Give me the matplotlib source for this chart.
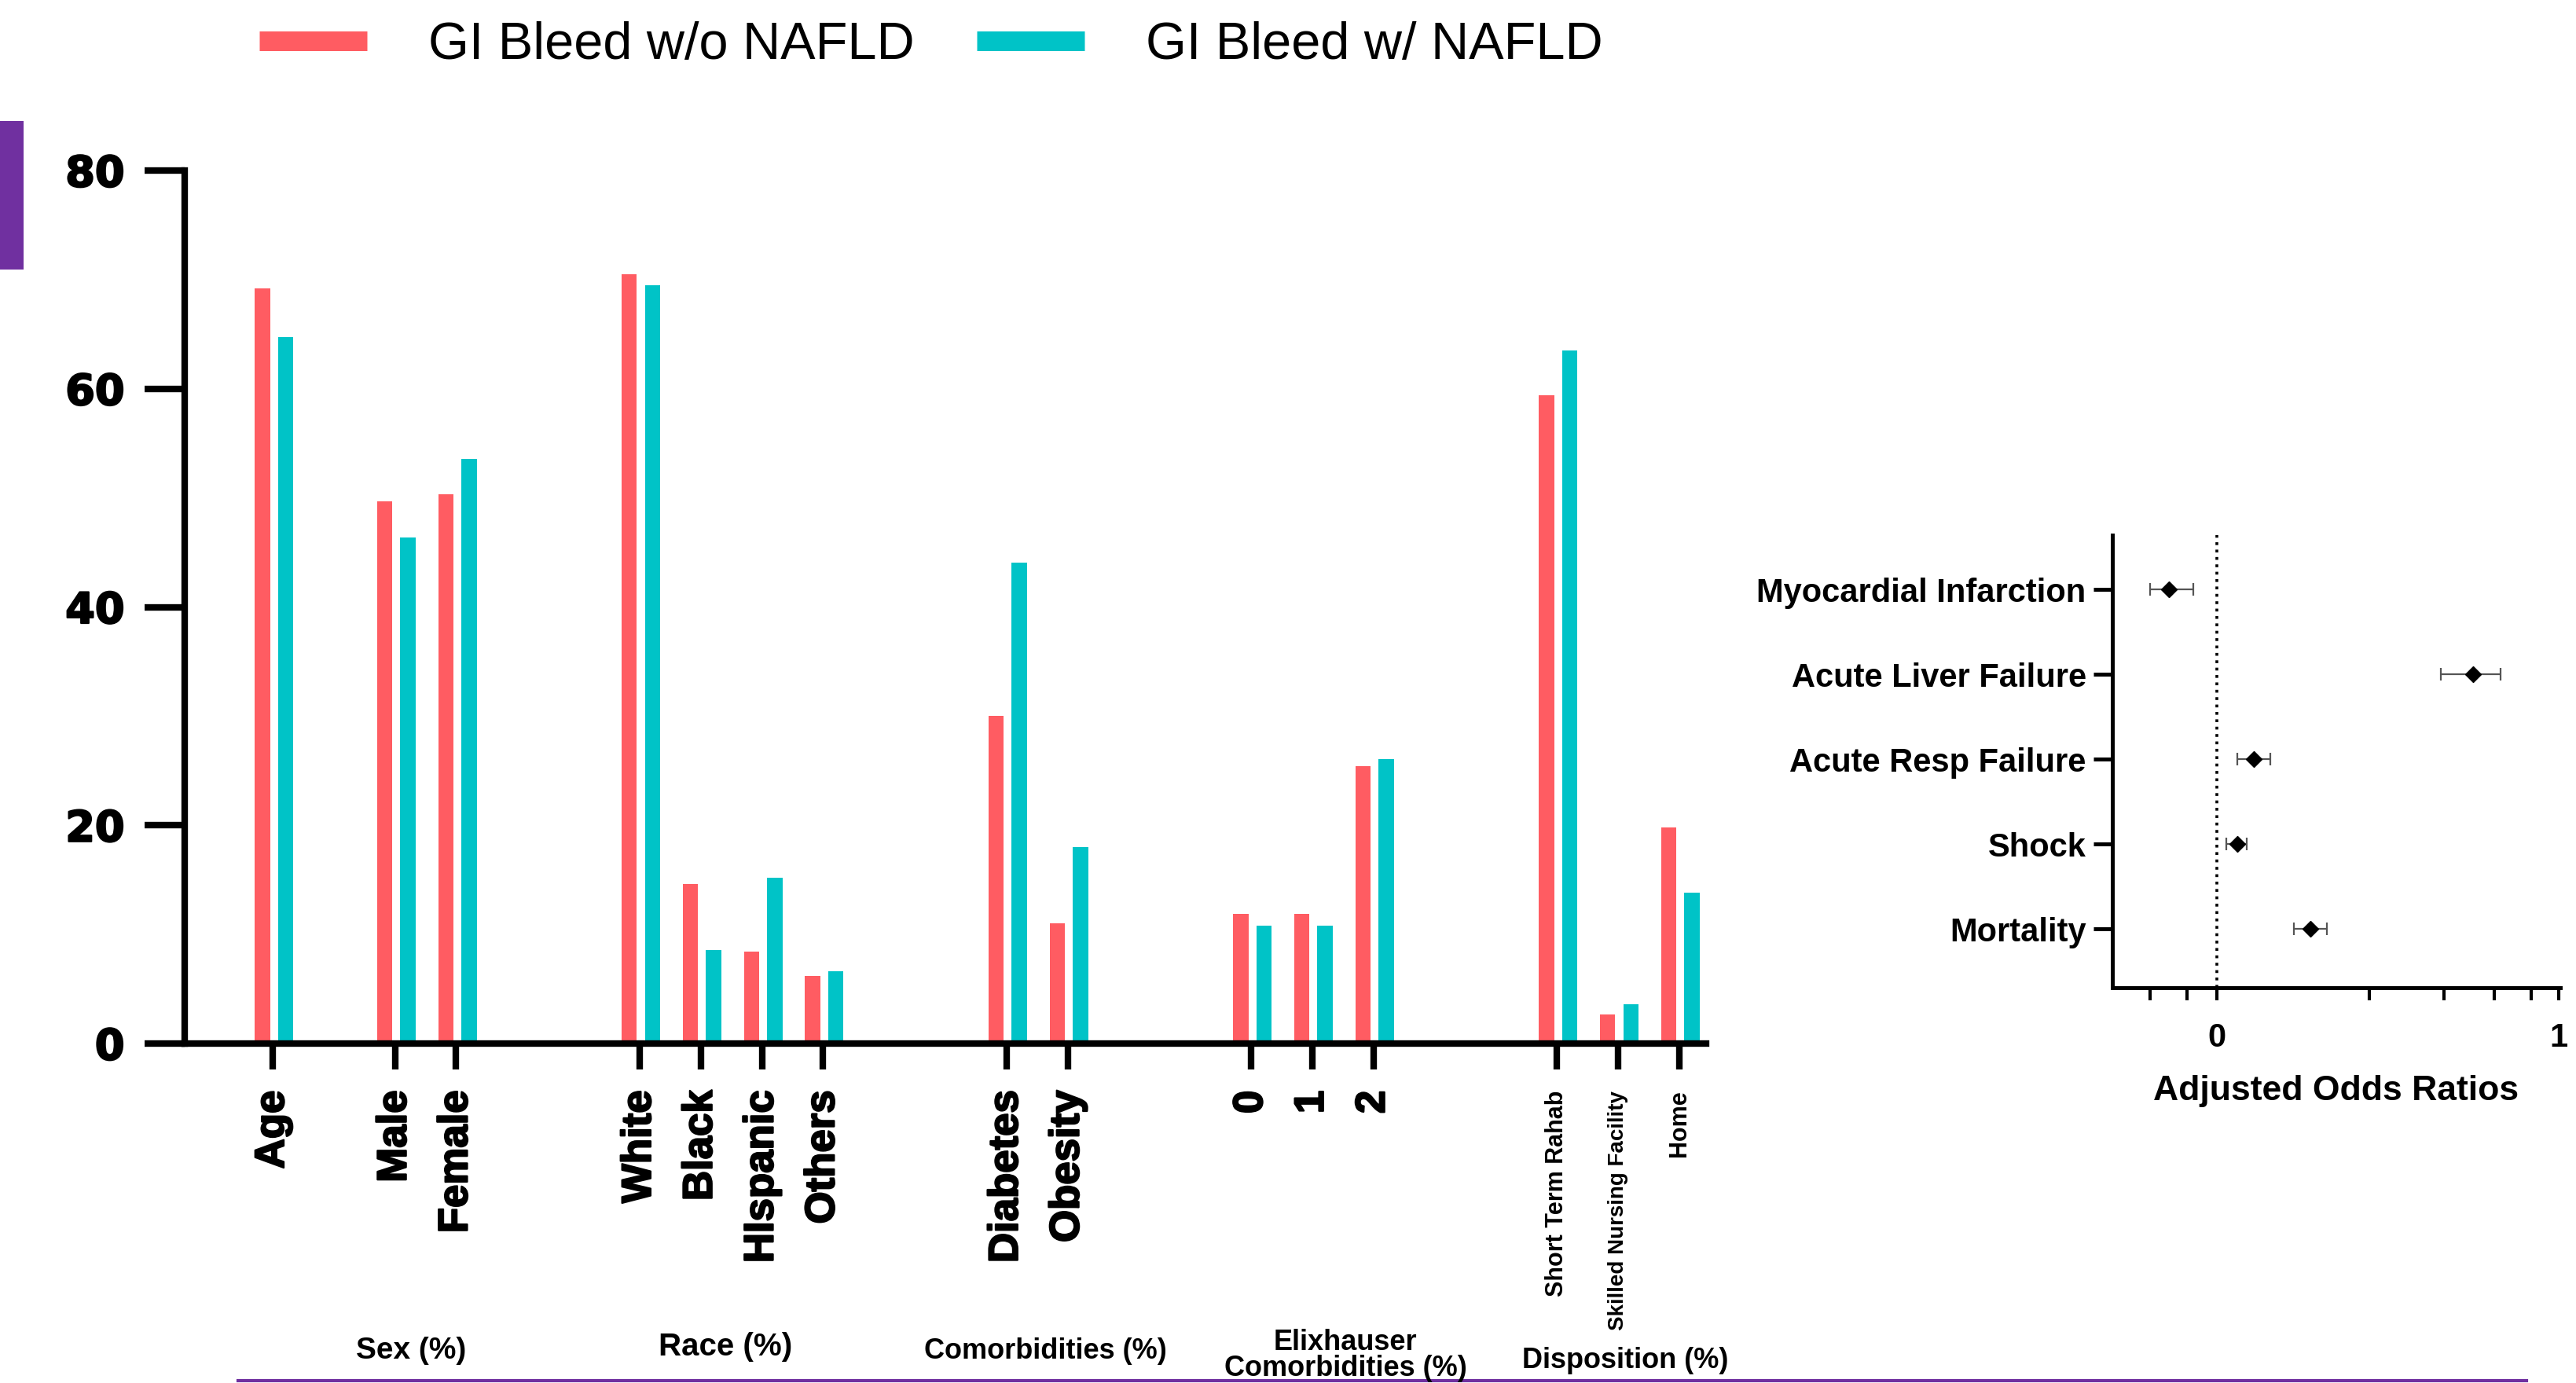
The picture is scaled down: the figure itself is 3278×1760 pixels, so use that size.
import matplotlib
matplotlib.use("Agg")
import matplotlib.pyplot as plt
import matplotlib.patheffects as pe
from matplotlib.lines import Line2D
from matplotlib.patches import Rectangle
import numpy as np

plt.rcParams['font.family'] = ['Liberation Sans', 'DejaVu Sans']

# ---------------- data ----------------
series_names = ['GI Bleed w/o NAFLD', 'GI Bleed w/ NAFLD']
categories = ['Age', 'Male', 'Female', 'White', 'Black', 'HIspanic', 'Others',
              'Diabetes', 'Obesity', '0', '1', '2',
              'Short Term Rahab', 'Skilled Nursing Facility', 'Home']
without_nafld = [69.2, 49.7, 50.3, 70.5, 14.6, 8.4, 6.2, 30.0, 11.0, 11.9, 11.9, 25.4, 59.4, 2.7, 19.8]
with_nafld = [64.7, 46.4, 53.6, 69.5, 8.6, 15.2, 6.6, 44.1, 18.0, 10.8, 10.8, 26.1, 63.5, 3.6, 13.8]
group_labels = ['Sex (%)', 'Race (%)', 'Comorbidities (%)', 'Elixhauser\nComorbidities (%)', 'Disposition (%)']
y_ticks = [0, 20, 40, 60, 80]

outcomes = ['Myocardial Infarction', 'Acute Liver Failure', 'Acute Resp Failure', 'Shock', 'Mortality']
aor = [-0.140, 0.750, 0.108, 0.059, 0.273]
aor_low = [-0.196, 0.656, 0.059, 0.027, 0.225]
aor_high = [-0.069, 0.831, 0.156, 0.087, 0.323]
forest_major_ticks = [0, 1]
forest_minor_ticks = [-0.196, -0.088, 0.447, 0.664, 0.812, 0.921]

# ---------------- layout / style ----------------
slot_step = [0, 2, 1, 3, 1, 1, 1, 3, 1, 3, 1, 1, 3, 1, 1]
xpos = np.cumsum(slot_step).astype(float)
RED = '#FF5C62'
CYAN = '#00C3C7'
PURPLE = '#7030A0'
W, H = 3278, 1760
heavy = [pe.withStroke(linewidth=1.6, foreground='black')]

fig = plt.figure(figsize=(W / 100, H / 100), dpi=100)
fig.patch.set_facecolor('white')

# ---------------- bar chart ----------------
ax = fig.add_axes([235 / W, 1 - 1328 / H, (2171 - 235) / W, (1328 - 217) / H])
ax.bar(xpos - 0.17, without_nafld, 0.25, color=RED, zorder=2)
ax.bar(xpos + 0.21, with_nafld, 0.25, color=CYAN, zorder=2)
ax.set_xlim(-1.44, 23.44)
ax.set_ylim(0, 80)
for s in ['top', 'right']:
    ax.spines[s].set_visible(False)
for s in ['left', 'bottom']:
    ax.spines[s].set_linewidth(6)
    ax.spines[s].set_zorder(3)
ax.set_yticks(y_ticks)
ax.set_yticklabels([str(v) for v in y_ticks])
for t in ax.get_yticklabels():
    t.set_fontfamily('DejaVu Sans')
    t.set_fontweight('bold')
    t.set_fontsize(39)
    t.set_path_effects(heavy)
ax.tick_params(axis='y', length=37, width=6, pad=18)
ax.set_xticks(xpos)
ax.set_xticklabels(categories, rotation=90)
xsizes = [38] * 12 + [22, 20, 22]
for i, (t, fs) in enumerate(zip(ax.get_xticklabels(), xsizes)):
    t.set_fontweight('bold')
    t.set_fontsize(fs)
    if i < 12:
        t.set_path_effects(heavy)
ax.tick_params(axis='x', length=24, width=6, pad=19)

# legend
handles = [Line2D([], [], color=RED, lw=18, solid_capstyle='butt'),
           Line2D([], [], color=CYAN, lw=18, solid_capstyle='butt')]
fig.legend(handles, series_names, loc='center left', bbox_to_anchor=(330 / W, 1 - 58 / H),
           ncol=2, frameon=False, fontsize=48, handlelength=2.05, handletextpad=1.17,
           columnspacing=1.2, borderpad=0, borderaxespad=0)

# group labels
grp_pos = [(523, 1719, 28), (923, 1714, 29), (1330, 1719, 26), (1712, 1725, 26), (2068, 1731, 26)]
for lab, (gx, gy, fs) in zip(group_labels, grp_pos):
    fig.text(gx / W, 1 - gy / H, lab, ha='center', va='center', fontsize=fs,
             fontweight='bold', linespacing=0.95)

# ---------------- forest plot ----------------
fa = fig.add_axes([2688 / W, 1 - 1257 / H, (3258 - 2688) / W, (1257 - 681) / H])
yy = np.arange(len(outcomes))
est = np.array(aor)
lo = np.array(aor_low)
hi = np.array(aor_high)
fa.errorbar(est, yy, xerr=[est - lo, hi - est], fmt='none', ecolor='#555555',
            elinewidth=1.6, capsize=5.5, capthick=1.6, zorder=2)
fa.plot(est, yy, 'D', color='black', markersize=10, zorder=3)
fa.axvline(0, color='black', ls=(0, (1, 1.6)), lw=2.6, zorder=1)
fa.set_ylim(len(outcomes) - 1 + 0.69, -0.64)
fa.set_xlim(-0.306, 1.005)
for s in ['top', 'right']:
    fa.spines[s].set_visible(False)
for s in ['left', 'bottom']:
    fa.spines[s].set_linewidth(3.6)
fa.set_yticks(yy)
fa.set_yticklabels(outcomes, fontsize=30, fontweight='bold')
fa.set_xticks(forest_major_ticks)
fa.set_xticklabels([str(v) for v in forest_major_ticks], fontsize=30, fontweight='bold')
fa.set_xticks(forest_minor_ticks, minor=True)
fa.tick_params(axis='y', length=17, width=3.6, pad=7)
fa.tick_params(axis='x', which='both', length=11.5, width=3, pad=20)
fig.text(2973 / W, 1 - 1388 / H, 'Adjusted Odds Ratios', ha='center', va='center',
         fontsize=32, fontweight='bold')

# ---------------- decorations ----------------
fig.add_artist(Rectangle((0, 1 - 343 / H), 30 / W, (343 - 154) / H,
                         transform=fig.transFigure, color=PURPLE, lw=0))
fig.add_artist(Line2D([303 / W, 3215 / W], [1 - 1757 / H, 1 - 1757 / H],
                      transform=fig.transFigure, color=PURPLE, lw=3))

fig.savefig('out.png', dpi=100, facecolor='white')
